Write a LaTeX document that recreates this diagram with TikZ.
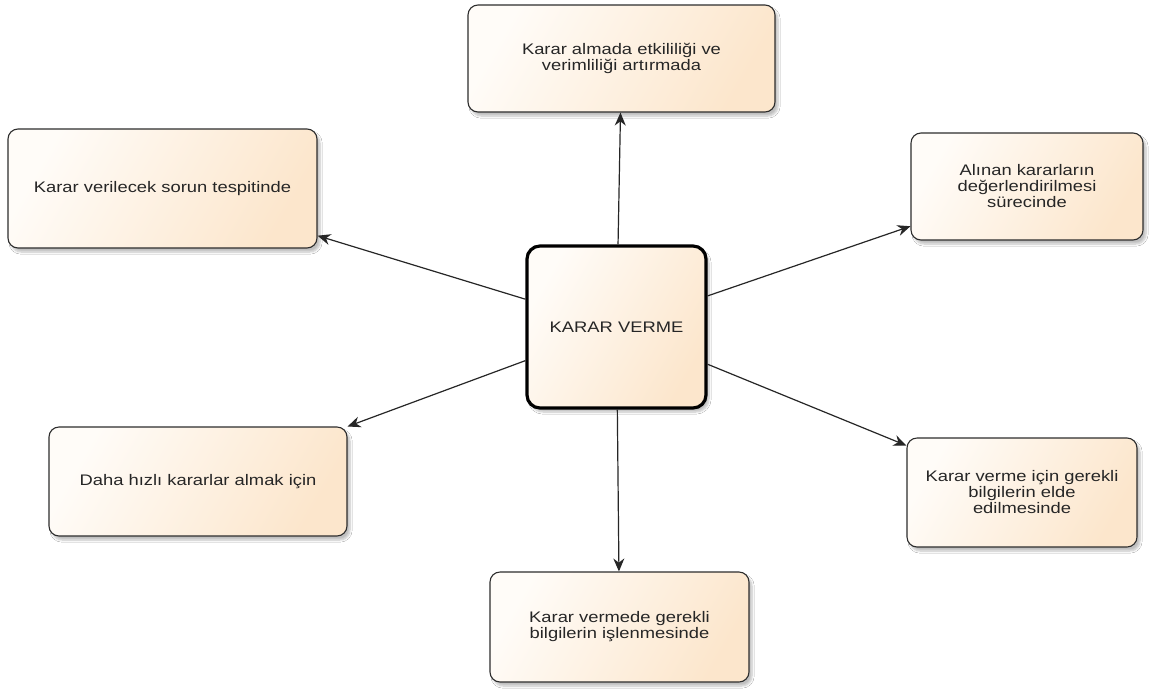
\documentclass[tikz,border=0pt]{standalone}
\usepackage{fontspec}
\setmainfont{Liberation Sans}[FakeStretch=1.2]
\usetikzlibrary{arrows.meta,shadows.blur}
\definecolor{peach}{RGB}{252,230,204}
\definecolor{cream}{RGB}{255,252,248}
\definecolor{edge}{RGB}{45,45,45}
\tikzset{
  box/.style={draw=edge, line width=1.1pt, rounded corners=10pt,
    left color=cream, right color=peach, shading angle=60,
    blur shadow={shadow xshift=3pt, shadow yshift=-4pt, shadow blur steps=6, shadow opacity=25},
    align=center, inner sep=4pt, font=\fontsize{15.3}{16}\selectfont, text=black!85},
  mainbox/.style={box, draw=black, line width=3.2pt, rounded corners=13pt},
  arr/.style={draw=black!85, line width=1.2pt, -{Stealth[length=13pt,width=11pt]}}
}
\begin{document}
\begin{tikzpicture}[x=1pt,y=-1pt]
\useasboundingbox[fill=white] (0,0) rectangle (1159,689);
\node[box, minimum width=307pt, minimum height=107pt] (t) at (621.5,58.5) {Karar almada etkililiği ve\\verimliliği artırmada};
\node[box, minimum width=309pt, minimum height=119pt] (lt) at (162.5,188.5) {Karar verilecek sorun tespitinde};
\node[box, minimum width=232pt, minimum height=107pt] (rt) at (1027,186.5) {Alınan kararların\\değerlendirilmesi\\sürecinde};
\node[box, minimum width=298pt, minimum height=109pt] (lb) at (198,481.5) {Daha hızlı kararlar almak için};
\node[box, minimum width=230pt, minimum height=109pt] (rb) at (1022,492.5) {Karar verme için gerekli\\bilgilerin elde\\edilmesinde};
\node[box, minimum width=259pt, minimum height=110pt] (b) at (619.5,627) {Karar vermede gerekli\\bilgilerin işlenmesinde};
\node[mainbox, minimum width=179pt, minimum height=162pt] (c) at (616.5,327) {KARAR VERME};
\draw[arr] (c) -- (t);
\draw[arr] (c) -- (lt);
\draw[arr] (c) -- (rt);
\draw[arr] (c) -- (lb);
\draw[arr] (c) -- (rb);
\draw[arr] (c) -- (b);
\end{tikzpicture}
\end{document}
